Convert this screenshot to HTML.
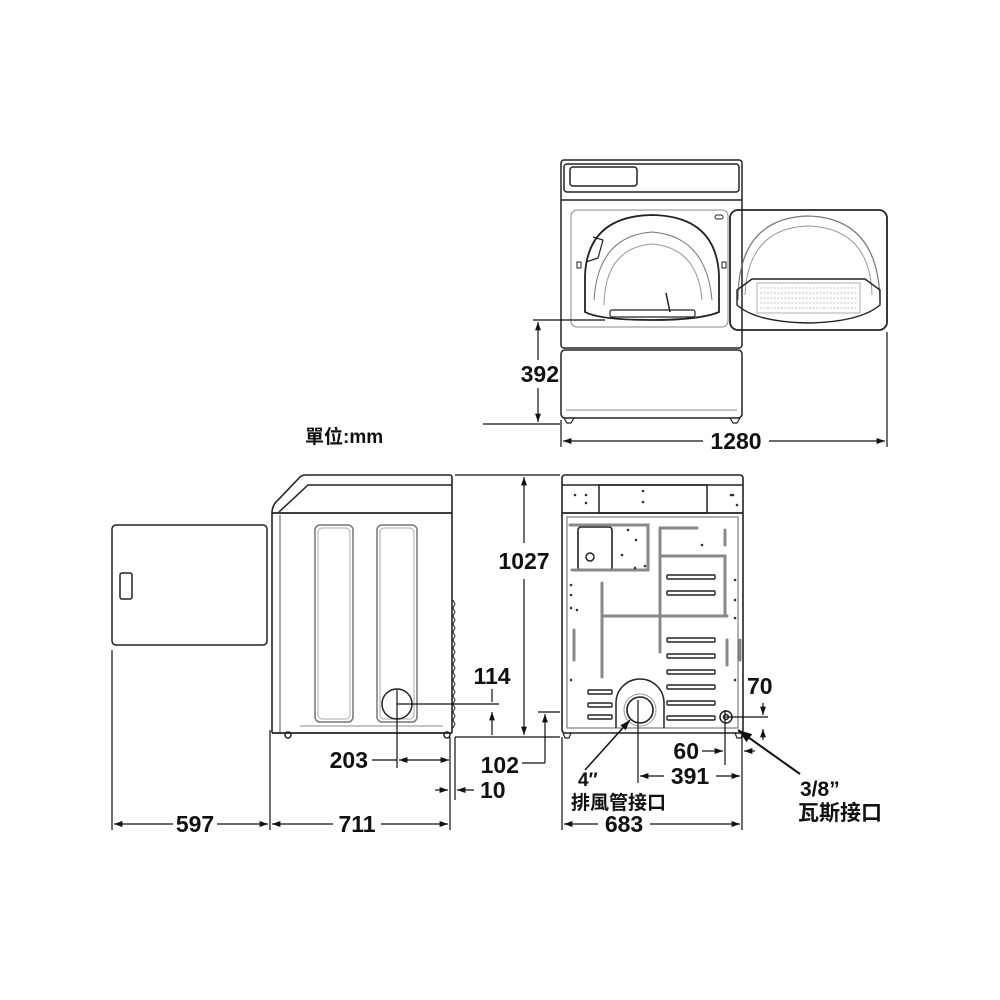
<!DOCTYPE html>
<html><head><meta charset="utf-8"><style>
html,body{margin:0;padding:0;background:#fff}
svg{display:block}
text{font-family:"Liberation Sans","Noto Sans CJK TC",sans-serif;font-weight:bold;fill:#111}
</style></head><body>
<svg width="1000" height="1000" viewBox="0 0 1000 1000" xmlns="http://www.w3.org/2000/svg">
<defs>
<marker id="a" viewBox="0 0 10 10" refX="10" refY="5" markerWidth="7" markerHeight="7" orient="auto-start-reverse"><path d="M0,1.5 L10,5 L0,8.5 z" fill="#111"/></marker>
</defs>
<g fill="none" stroke="#222" stroke-width="1.5">
<rect x="561" y="160" width="181" height="188" rx="3"/>
<rect x="564" y="164" width="175" height="28" rx="3"/>
<rect x="570" y="167" width="67" height="19" rx="3"/>
<line x1="561" y1="200" x2="742" y2="200"/>
<rect x="571" y="210" width="157" height="117" rx="6" stroke="#888" stroke-width="1"/>
<path d="M585,312 L585,275 Q588,216 652,215 Q716,216 719,275 L719,312 Q700,320 652,320 Q600,320 585,312 Z" stroke-width="1.8"/>
<path d="M594,300 Q598,236 652,232 Q706,236 712,300" stroke="#777" stroke-width="1"/>
<path d="M604,305 Q605,248 652,244 Q698,248 702,300" stroke="#999" stroke-width="1"/>
<rect x="610" y="310" width="85" height="7" rx="2" stroke-width="1.2"/>
<path d="M586,262 L598,258 L603,240 L593,237" stroke-width="1.2"/>
<line x1="666" y1="293" x2="670" y2="312" stroke-width="1.5"/>
<rect x="577" y="262" width="4" height="6" stroke-width="1"/>
<rect x="722" y="262" width="4" height="6" stroke-width="1"/>
<rect x="715" y="215" width="8" height="4" rx="2" stroke-width="1"/>
<rect x="561" y="350" width="181" height="68" rx="4"/>
<line x1="566" y1="410" x2="737" y2="410" stroke="#888" stroke-width="1"/>
<path d="M564,418 l3,5 h4 l3,-5 M730,418 l3,5 h4 l3,-5" stroke-width="1.2"/>
<rect x="730" y="210" width="157" height="120" rx="8" stroke-width="1.8"/>
<path d="M738,300 Q738,218 808,216 Q878,218 880,300" stroke="#777" stroke-width="1.2"/>
<path d="M745,295 Q748,228 808,226 Q870,228 872,295" stroke="#999" stroke-width="1"/>
<path d="M737,290 L752,279 L865,279 L880,290 L880,305 Q860,322 808,323 Q756,322 737,305 Z" stroke-width="1.4"/>
<rect x="757" y="283" width="103" height="30" stroke="#999" stroke-width="0.8"/>
<g stroke="#aaa" stroke-width="0.8" stroke-dasharray="2 1.5">
<line x1="760" y1="288" x2="857" y2="288"/><line x1="760" y1="293" x2="857" y2="293"/><line x1="760" y1="298" x2="857" y2="298"/><line x1="760" y1="303" x2="857" y2="303"/><line x1="760" y1="308" x2="857" y2="308"/>
</g>
<rect x="112" y="525" width="155" height="120" rx="4"/>
<rect x="120" y="573" width="12" height="26" rx="2"/>
<path d="M272,733 L272,513 Q272,505 278,500 L300,477 Q302,475 306,475 L450,475 Q452,475 452,478 L452,733" stroke-width="1.6"/>
<path d="M279,512 L308,485 L452,485"/>
<line x1="272" y1="513" x2="452" y2="513" stroke-width="1.8"/>
<line x1="280" y1="515" x2="280" y2="733" stroke="#555" stroke-width="1"/>
<line x1="272" y1="733" x2="452" y2="733" stroke-width="1.8"/>
<rect x="315" y="525" width="38" height="197" rx="5" stroke="#777"/>
<rect x="318" y="528" width="32" height="191" rx="4" stroke="#aaa" stroke-width="1"/>
<rect x="377" y="525" width="40" height="197" rx="5" stroke="#777"/>
<rect x="380" y="528" width="34" height="191" rx="4" stroke="#aaa" stroke-width="1"/>
<circle cx="397" cy="704" r="15"/>
<line x1="300" y1="726" x2="443" y2="726" stroke="#888" stroke-width="1"/>
<circle cx="288" cy="735" r="3"/><circle cx="447" cy="735" r="3"/>
<path d="M453,600 l2,4 l-2,4 l2,4 l-2,4 l2,4 l-2,4 l2,4 l-2,4 l2,4 l-2,4 l2,4 l-2,4 l2,4 l-2,4 l2,4 l-2,4 l2,4 l-2,4 l2,4 l-2,4 l2,4 l-2,4 l2,4 l-2,4 l2,4 l-2,4 l2,4 l-2,4 l2,4 l-2,4 l2,4 l-2,4" stroke-width="1"/>
<rect x="562" y="475" width="181" height="258" rx="3" stroke-width="1.6"/>
<line x1="562" y1="485" x2="743" y2="485"/>
<line x1="562" y1="513" x2="743" y2="513" stroke-width="1.8"/>
<rect x="599" y="485" width="108" height="28"/>
<rect x="567" y="517" width="171" height="211" stroke="#666" stroke-width="1"/>
<rect x="578" y="527" width="34" height="43" rx="3" stroke-width="1.6"/>
<circle cx="590" cy="557" r="4"/>
<g stroke="#888" stroke-width="3" stroke-linecap="round">
<path d="M570,525 L648,525 L648,570 L572,570"/>
<path d="M660,528 L697,528"/>
<path d="M660,528 L660,652"/>
<path d="M660,556 L725,556 L725,616"/>
<path d="M602,583 L602,677"/>
<path d="M602,616 L727,616"/>
<path d="M725,530 L725,545 M740,640 L740,660 M574,630 L574,660 M727,640 L727,665"/>
</g>
<g stroke="#222" stroke-width="1.4">
<rect x="667" y="575" width="48" height="4" rx="1"/><rect x="667" y="591" width="48" height="4" rx="1"/>
<rect x="667" y="638" width="48" height="4" rx="1"/><rect x="667" y="654" width="48" height="4" rx="1"/>
<rect x="667" y="670" width="48" height="4" rx="1"/><rect x="667" y="685" width="48" height="4" rx="1"/>
<rect x="667" y="701" width="48" height="4" rx="1"/><rect x="667" y="716" width="48" height="4" rx="1"/>
<rect x="588" y="690" width="24" height="4" rx="1"/><rect x="588" y="703" width="24" height="4" rx="1"/><rect x="588" y="715" width="24" height="4" rx="1"/>
</g>
<path d="M616,728 L616,703 A24,24 0 0 1 664,703 L664,728"/>
<circle cx="640" cy="710" r="13" stroke-width="1.6"/>
<circle cx="640" cy="710" r="16" stroke="#999" stroke-width="1"/>
<circle cx="726" cy="717" r="6"/><circle cx="726" cy="717" r="2.5"/>
<path d="M563,733 l2,5 h4 l2,-5 M735,733 l2,5 h4 l2,-5" stroke-width="1.2"/>
</g>
<g fill="#333">
<circle cx="575" cy="495" r="1.3"/><circle cx="586" cy="495" r="1.3"/><circle cx="586" cy="503" r="1.3"/><circle cx="643" cy="491" r="1.3"/><circle cx="643" cy="502" r="1.3"/><circle cx="733" cy="495" r="1.3"/><circle cx="737" cy="505" r="1.3"/><circle cx="731" cy="495" r="1.3"/>
<circle cx="571" cy="585" r="1.3"/><circle cx="571" cy="595" r="1.3"/><circle cx="571" cy="608" r="1.3"/><circle cx="577" cy="610" r="1.3"/><circle cx="571" cy="680" r="1.3"/>
<circle cx="628" cy="530" r="1.3"/><circle cx="636" cy="540" r="1.3"/><circle cx="622" cy="555" r="1.3"/><circle cx="635" cy="568" r="1.3"/><circle cx="645" cy="566" r="1.3"/><circle cx="702" cy="545" r="1.3"/>
<circle cx="735" cy="580" r="1.3"/><circle cx="735" cy="600" r="1.3"/><circle cx="735" cy="618" r="1.3"/><circle cx="735" cy="680" r="1.3"/>
</g>
<g stroke="#111" stroke-width="1.2" fill="none">
<line x1="533" y1="320" x2="605" y2="320"/>
<line x1="483" y1="424" x2="560" y2="424"/>
<line x1="538" y1="322" x2="538" y2="360" marker-start="url(#a)"/>
<line x1="538" y1="388" x2="538" y2="422" marker-end="url(#a)"/>
<line x1="561" y1="420" x2="561" y2="447"/>
<line x1="887" y1="332" x2="887" y2="447"/>
<line x1="563" y1="441" x2="703" y2="441" marker-start="url(#a)"/>
<line x1="769" y1="441" x2="885" y2="441" marker-end="url(#a)"/>
<line x1="455" y1="475" x2="560" y2="475"/>
<line x1="455" y1="737" x2="560" y2="737"/>
<line x1="524" y1="477" x2="524" y2="543" marker-start="url(#a)"/>
<line x1="524" y1="579" x2="524" y2="735" marker-end="url(#a)"/>
<line x1="397" y1="704" x2="499" y2="704"/>
<line x1="492" y1="689" x2="492" y2="702"/>
<line x1="492" y1="712" x2="492" y2="735" marker-start="url(#a)"/>
<line x1="538" y1="712" x2="560" y2="712"/>
<line x1="545" y1="714" x2="545" y2="763" marker-start="url(#a)"/>
<line x1="545" y1="763" x2="522" y2="763"/>
<line x1="397" y1="690" x2="397" y2="768"/>
<line x1="372" y1="760" x2="397" y2="760"/>
<line x1="399" y1="760" x2="449" y2="760" marker-start="url(#a)" marker-end="url(#a)"/>
<line x1="450" y1="737" x2="450" y2="830"/>
<line x1="455" y1="737" x2="455" y2="800"/>
<line x1="435" y1="790" x2="448" y2="790" marker-end="url(#a)"/>
<line x1="474" y1="790" x2="457" y2="790" marker-end="url(#a)"/>
<line x1="112" y1="650" x2="112" y2="830"/>
<line x1="270" y1="730" x2="270" y2="830"/>
<line x1="114" y1="824" x2="173" y2="824" marker-start="url(#a)"/>
<line x1="217" y1="824" x2="268" y2="824" marker-end="url(#a)"/>
<line x1="272" y1="824" x2="333" y2="824" marker-start="url(#a)"/>
<line x1="381" y1="824" x2="448" y2="824" marker-end="url(#a)"/>
<line x1="726" y1="717" x2="768" y2="717"/>
<line x1="763" y1="703" x2="763" y2="715" marker-end="url(#a)"/>
<line x1="763" y1="729" x2="763" y2="740" marker-start="url(#a)"/>
<line x1="725" y1="710" x2="725" y2="765"/>
<line x1="742" y1="735" x2="742" y2="830"/>
<line x1="702" y1="751" x2="723" y2="751" marker-end="url(#a)"/>
<line x1="755" y1="751" x2="744" y2="751" marker-end="url(#a)"/>
<line x1="638" y1="700" x2="638" y2="783"/>
<line x1="640" y1="776" x2="664" y2="776" marker-start="url(#a)"/>
<line x1="716" y1="776" x2="740" y2="776" marker-end="url(#a)"/>
<line x1="562" y1="737" x2="562" y2="830"/>
<line x1="564" y1="824" x2="598" y2="824" marker-start="url(#a)"/>
<line x1="650" y1="824" x2="740" y2="824" marker-end="url(#a)"/>
<line x1="585" y1="770" x2="630" y2="720" marker-end="url(#a)" stroke-width="1.5"/>
<line x1="800" y1="774" x2="738" y2="730" marker-end="url(#a)" stroke-width="2"/>
</g>
<g font-size="23">
<text x="559" y="382" text-anchor="end">392</text>
<text x="736" y="449" text-anchor="middle">1280</text>
<text x="524" y="569" text-anchor="middle">1027</text>
<text x="492" y="684" text-anchor="middle">114</text>
<text x="519" y="773" text-anchor="end">102</text>
<text x="368" y="768" text-anchor="end">203</text>
<text x="480" y="798">10</text>
<text x="195" y="832" text-anchor="middle">597</text>
<text x="357" y="832" text-anchor="middle">711</text>
<text x="747" y="694">70</text>
<text x="699" y="759" text-anchor="end">60</text>
<text x="690" y="784" text-anchor="middle">391</text>
<text x="624" y="832" text-anchor="middle">683</text>
<text x="578" y="786" font-size="19">4″</text>
<text x="800" y="796" font-size="21">3/8”</text>
</g>
<text x="305" y="443" font-size="19">單位:mm</text>
<text x="571" y="809" font-size="19">排風管接口</text>
<text x="798" y="820" font-size="21">瓦斯接口</text>
</svg>
</body></html>
